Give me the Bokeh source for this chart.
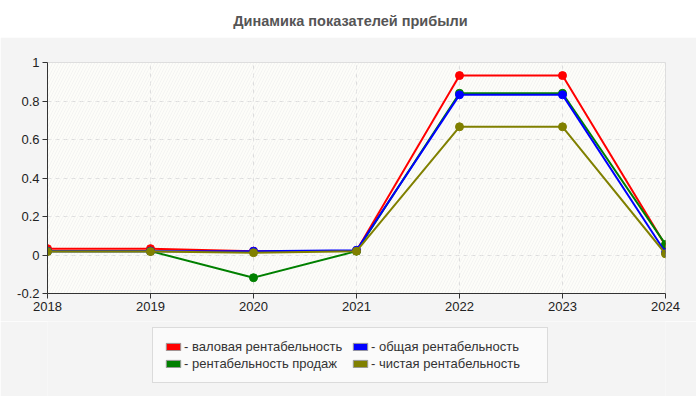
from bokeh.plotting import figure
from bokeh.layouts import column
from bokeh.embed import file_html
from bokeh.resources import INLINE
from bokeh.models import (BoxAnnotation, FixedTicker, Legend, LegendItem,
                          ColumnDataSource, Range1d, Label)

years = [2018, 2019, 2020, 2021, 2022, 2023, 2024]
gross = [0.033, 0.033, 0.02, 0.022, 0.932, 0.932, 0.05]
sales = [0.02, 0.02, -0.118, 0.02, 0.84, 0.84, 0.055]
total = [0.02, 0.02, 0.02, 0.025, 0.832, 0.832, 0.013]
net = [0.018, 0.018, 0.012, 0.02, 0.666, 0.666, 0.006]

names = ["- валовая рентабельность", "- рентабельность продаж",
         "- общая рентабельность", "- чистая рентабельность"]
colors = ["#ff0000", "#008000", "#0000ff", "#808000"]
series = [gross, sales, total, net]

y_ticks = [-0.2, 0, 0.2, 0.4, 0.6, 0.8, 1]
y_labels = ["-0.2", "0", "0.2", "0.4", "0.6", "0.8", "1"]

FONT = "Liberation Sans"
W = 696


def blank(h, bg):
    f = figure(width=W, height=h, output_backend="svg", toolbar_location=None,
               min_border=0, border_fill_color=bg, background_fill_color=bg,
               outline_line_color=None, x_axis_location=None,
               y_axis_location=None, x_range=Range1d(0, 1), y_range=Range1d(0, 1))
    f.grid.visible = False
    return f


# title strip (column aligns its frame with the chart frame, left edge at 47px)
head = blank(37, "white")
head.add_layout(Label(x=303, y=17, x_units="screen", y_units="screen",
                      text="Динамика показателей прибыли", text_align="center",
                      text_baseline="middle", text_font=FONT,
                      text_font_size="14.5px", text_font_style="bold",
                      text_color="#555555"))

p = figure(width=W, height=284, output_backend="svg", toolbar_location=None,
           x_range=Range1d(2018, 2024), y_range=Range1d(-0.2, 1),
           min_border_left=47, min_border_right=31, min_border_top=25,
           min_border_bottom=28, border_fill_color="#f4f4f4",
           background_fill_color="#fdfdf9", outline_line_color="#dddddd")

# hatched plot area
p.add_layout(BoxAnnotation(fill_alpha=0, line_alpha=0,
                           hatch_pattern="/", hatch_color="#ececec",
                           hatch_alpha=0.6, hatch_scale=6, hatch_weight=1,
                           level="underlay"))

for axis in (p.xaxis[0], p.yaxis[0]):
    axis.axis_line_color = "#333333"
    axis.major_tick_line_color = "#333333"
    axis.major_tick_out = 5
    axis.major_tick_in = 0
    axis.minor_tick_line_color = None
    axis.major_label_text_font = FONT
    axis.major_label_text_font_size = "13px"
    axis.major_label_text_color = "#222222"
    axis.major_label_standoff = 3

p.xaxis.ticker = FixedTicker(ticks=years)
p.yaxis.ticker = FixedTicker(ticks=y_ticks)
p.yaxis.major_label_overrides = dict(zip(y_ticks, y_labels))

p.grid.grid_line_color = "#dddddd"
p.grid.grid_line_dash = "4 4"

for vals, c in zip(series, colors):
    src = ColumnDataSource(dict(x=years, y=vals))
    p.line("x", "y", source=src, line_color=c, line_width=2)
    p.scatter("x", "y", source=src, size=8, fill_color=c, line_color=c)

# legend strip
foot = blank(75, "#f4f4f4")
items = []
for name, c in zip(names, colors):
    r = foot.rect(x=[5], y=[5], width=1, height=1, fill_color=c,
                  line_color="#999999")
    items.append(LegendItem(label=name, renderers=[r]))

legend = Legend(items=items, ncols=2, location=(105, 13),
                label_text_font=FONT, label_text_font_size="13px",
                label_text_color="#333333", label_standoff=2,
                glyph_width=18, glyph_height=9, label_height=15,
                label_width=165, spacing=2, padding=11, margin=0,
                background_fill_color="#fafafa", background_fill_alpha=1,
                border_line_color="#bbbbbb", border_line_width=1)
foot.add_layout(legend)

open("out.html", "w").write(file_html(column(head, p, foot, spacing=0), INLINE))
